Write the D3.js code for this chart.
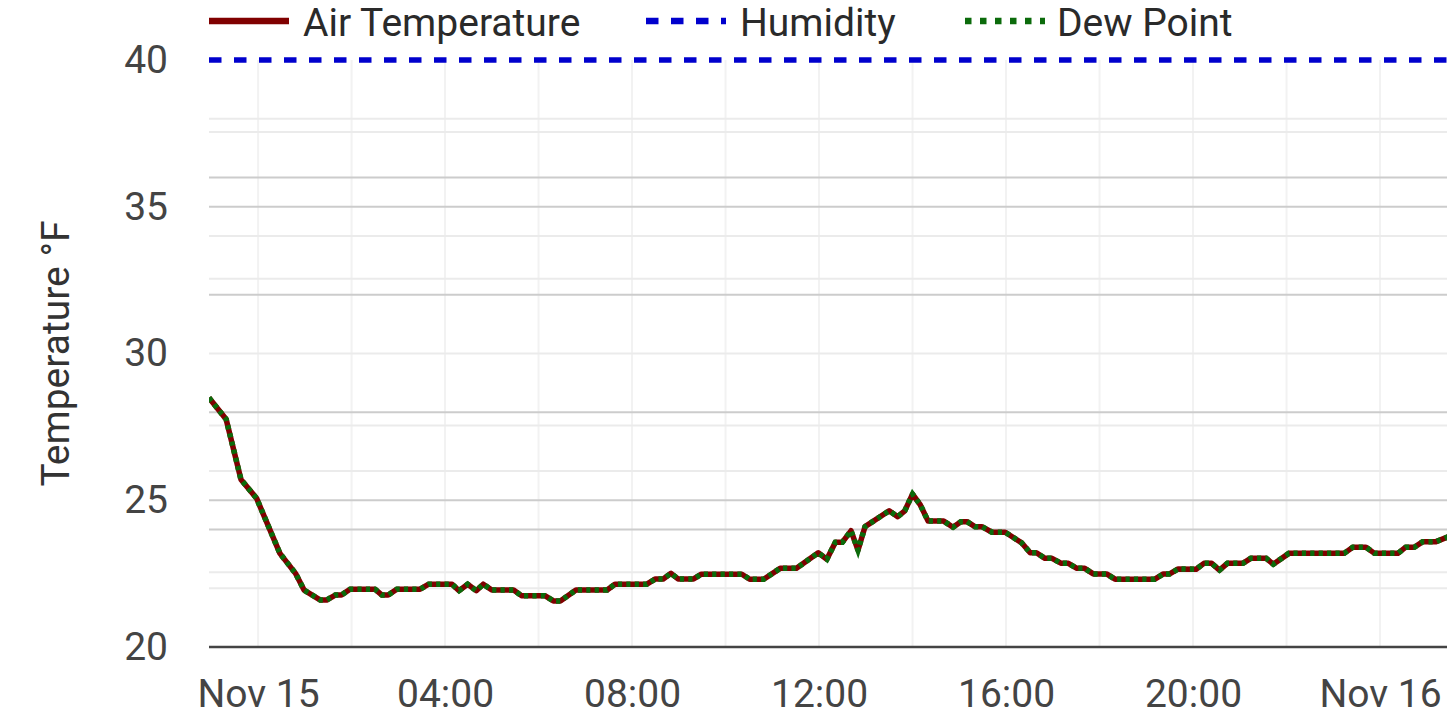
<!DOCTYPE html>
<html>
<head>
<meta charset="utf-8">
<script src="https://cdn.jsdelivr.net/npm/d3@7"></script>
<style>
  html, body { margin: 0; padding: 0; background: #fff; }
  svg { display: block; font-family: Roboto, "Noto Sans", sans-serif; }
</style>
</head>
<body>
<svg id="chart" width="1447" height="726"></svg>
<script>
// ---------------- DATA ----------------
const seriesNames = ["Air Temperature", "Humidity", "Dew Point"];

const tempTimes = [
  "2023-11-14 22:57","2023-11-14 23:19","2023-11-14 23:38","2023-11-14 23:58",
  "2023-11-15 00:28","2023-11-15 00:48","2023-11-15 00:59","2023-11-15 01:20","2023-11-15 01:28",
  "2023-11-15 01:39","2023-11-15 01:47","2023-11-15 01:58","2023-11-15 02:30","2023-11-15 02:39",
  "2023-11-15 02:47","2023-11-15 02:58","2023-11-15 03:28","2023-11-15 03:39","2023-11-15 04:09",
  "2023-11-15 04:18","2023-11-15 04:29","2023-11-15 04:40","2023-11-15 04:49","2023-11-15 05:00",
  "2023-11-15 05:28","2023-11-15 05:38","2023-11-15 06:08","2023-11-15 06:19","2023-11-15 06:28",
  "2023-11-15 06:48","2023-11-15 07:28","2023-11-15 07:38","2023-11-15 08:19","2023-11-15 08:30",
  "2023-11-15 08:40","2023-11-15 08:50","2023-11-15 08:59","2023-11-15 09:19","2023-11-15 09:29",
  "2023-11-15 10:21","2023-11-15 10:31","2023-11-15 10:49","2023-11-15 11:10","2023-11-15 11:31",
  "2023-11-15 11:59","2023-11-15 12:10","2023-11-15 12:21","2023-11-15 12:30","2023-11-15 12:41",
  "2023-11-15 12:50","2023-11-15 12:59","2023-11-15 13:30","2023-11-15 13:41","2023-11-15 13:50",
  "2023-11-15 14:00","2023-11-15 14:10","2023-11-15 14:20","2023-11-15 14:40","2023-11-15 14:52",
  "2023-11-15 15:02","2023-11-15 15:10","2023-11-15 15:20","2023-11-15 15:29","2023-11-15 15:42",
  "2023-11-15 15:59","2023-11-15 16:20","2023-11-15 16:31","2023-11-15 16:39","2023-11-15 16:50",
  "2023-11-15 16:59","2023-11-15 17:11","2023-11-15 17:20","2023-11-15 17:31","2023-11-15 17:41",
  "2023-11-15 17:52","2023-11-15 18:09","2023-11-15 18:20","2023-11-15 19:11","2023-11-15 19:22",
  "2023-11-15 19:30","2023-11-15 19:41","2023-11-15 20:04","2023-11-15 20:14","2023-11-15 20:24",
  "2023-11-15 20:34","2023-11-15 20:44","2023-11-15 21:04","2023-11-15 21:14","2023-11-15 21:34",
  "2023-11-15 21:43","2023-11-15 22:03","2023-11-15 23:14","2023-11-15 23:25","2023-11-15 23:42",
  "2023-11-15 23:53","2023-11-16 00:23","2023-11-16 00:33","2023-11-16 00:44","2023-11-16 00:55",
  "2023-11-16 01:12","2023-11-16 01:30"
];

const airTemp = [
  28.49,27.76,25.71,25.07,
  23.19,22.51,21.94,21.60,21.60,
  21.77,21.77,21.97,21.97,21.77,
  21.77,21.97,21.97,22.14,22.14,
  21.92,22.14,21.92,22.14,21.94,
  21.94,21.75,21.75,21.57,21.57,
  21.94,21.94,22.14,22.14,22.32,
  22.32,22.51,22.32,22.32,22.48,
  22.48,22.31,22.31,22.68,22.68,
  23.21,22.99,23.57,23.57,23.96,
  23.30,24.10,24.64,24.44,24.64,
  25.21,24.84,24.29,24.29,24.08,
  24.27,24.27,24.10,24.10,23.91,
  23.91,23.55,23.21,23.21,23.02,
  23.02,22.85,22.85,22.68,22.68,
  22.49,22.49,22.31,22.31,22.49,
  22.49,22.66,22.65,22.85,22.85,
  22.62,22.85,22.85,23.02,23.02,
  22.82,23.19,23.19,23.40,23.40,
  23.19,23.19,23.40,23.40,23.59,
  23.59,23.78
];

// Dew point reads the same as air temperature over this period
const dewPoint = [
  28.49,27.76,25.71,25.07,
  23.19,22.51,21.94,21.60,21.60,
  21.77,21.77,21.97,21.97,21.77,
  21.77,21.97,21.97,22.14,22.14,
  21.92,22.14,21.92,22.14,21.94,
  21.94,21.75,21.75,21.57,21.57,
  21.94,21.94,22.14,22.14,22.32,
  22.32,22.51,22.32,22.32,22.48,
  22.48,22.31,22.31,22.68,22.68,
  23.21,22.99,23.57,23.57,23.96,
  23.30,24.10,24.64,24.44,24.64,
  25.21,24.84,24.29,24.29,24.08,
  24.27,24.27,24.10,24.10,23.91,
  23.91,23.55,23.21,23.21,23.02,
  23.02,22.85,22.85,22.68,22.68,
  22.49,22.49,22.31,22.31,22.49,
  22.49,22.66,22.65,22.85,22.85,
  22.62,22.85,22.85,23.02,23.02,
  22.82,23.19,23.19,23.40,23.40,
  23.19,23.19,23.40,23.40,23.59,
  23.59,23.78
];

// Humidity (%), on its own 0-100 axis
const humidityTimes = ["2023-11-14 22:57", "2023-11-16 01:30"];
const humidity = [100, 100];

const xDomain = ["2023-11-14 22:57", "2023-11-16 01:26"];
const yDomain = [20, 40];
const yTicks = [20, 25, 30, 35, 40];
const humidityDomain = [0, 100];
const humidityGrid = [20, 40, 60, 80];
const tempGridDark = [25, 35];
const tempGridLight = [30, 22, 26, 34, 38, 22.55, 27.55, 32.55, 37.55];
const yTitle = "Temperature °F";

// ---------------- CHART ----------------
const parse = d3.timeParse("%Y-%m-%d %H:%M");
const svg = d3.select("#chart");
const W = 1447, H = 726;
const m = { left: 209, right: 0, top: 60, bottom: 79 };
const plotBottom = H - m.bottom; // 647
const FS = 39;

const x = d3.scaleTime().domain(xDomain.map(parse)).range([m.left, W - m.right]);
const y = d3.scaleLinear().domain(yDomain).range([plotBottom, m.top]);
const yH = d3.scaleLinear().domain(humidityDomain).range([plotBottom, m.top]);

const colors = { air: "#800000", hum: "#0000cd", dew: "#0b6b0b" };
const LW = 5.5;

svg.append("defs").append("clipPath").attr("id", "clip")
  .append("rect").attr("x", m.left).attr("y", m.top - 6)
  .attr("width", W - m.left).attr("height", plotBottom - m.top + 6);

const grid = svg.append("g");

// vertical grid every 2 hours
const vTicks = x.ticks(d3.timeHour.every(2));
grid.selectAll("line.v").data(vTicks).join("line")
  .attr("x1", d => x(d)).attr("x2", d => x(d))
  .attr("y1", m.top).attr("y2", plotBottom)
  .attr("stroke", "#f2f2f2").attr("stroke-width", 2);

// horizontal grid
grid.selectAll("line.hl").data(tempGridLight).join("line")
  .attr("x1", m.left).attr("x2", W)
  .attr("y1", d => y(d)).attr("y2", d => y(d))
  .attr("stroke", "#ebebeb").attr("stroke-width", 2);
grid.selectAll("line.hh").data(humidityGrid).join("line")
  .attr("x1", m.left).attr("x2", W)
  .attr("y1", d => yH(d)).attr("y2", d => yH(d))
  .attr("stroke", "#cccccc").attr("stroke-width", 2);
grid.selectAll("line.hd").data(tempGridDark).join("line")
  .attr("x1", m.left).attr("x2", W)
  .attr("y1", d => y(d)).attr("y2", d => y(d))
  .attr("stroke", "#cccccc").attr("stroke-width", 2);

// x axis
const fmtTick = d => (d.getHours() === 0 ? d3.timeFormat("%b %-d")(d) : d3.timeFormat("%H:%M")(d));
const xAxis = d3.axisBottom(x).ticks(d3.timeHour.every(4)).tickFormat(fmtTick).tickSize(0).tickPadding(32);
const gx = svg.append("g").attr("transform", `translate(0,${plotBottom})`).call(xAxis);
gx.select(".domain").remove();
gx.selectAll("text").attr("font-size", FS).attr("fill", "#444").attr("font-family", "Roboto");
svg.append("line").attr("x1", m.left).attr("x2", W)
  .attr("y1", plotBottom).attr("y2", plotBottom)
  .attr("stroke", "#444").attr("stroke-width", 2.5);

// y axis
const yAxis = d3.axisLeft(y).tickValues(yTicks).tickSize(0).tickPadding(41);
const gy = svg.append("g").attr("transform", `translate(${m.left},0)`).call(yAxis);
gy.select(".domain").remove();
gy.selectAll("text").attr("font-size", FS).attr("fill", "#444").attr("font-family", "Roboto");

svg.append("text")
  .attr("transform", `translate(69,${(m.top + plotBottom) / 2}) rotate(-90)`)
  .attr("text-anchor", "middle").attr("font-size", FS).attr("fill", "#333")
  .text(yTitle);

// lines
const plot = svg.append("g").attr("clip-path", "url(#clip)");
const tT = tempTimes.map(parse);
const line = d3.line().x(d => x(d[0])).y(d => y(d[1]));
const lineH = d3.line().x(d => x(d[0])).y(d => yH(d[1]));

plot.append("path").datum(tT.map((t, i) => [t, airTemp[i]]))
  .attr("d", line).attr("fill", "none").attr("stroke", colors.air)
  .attr("stroke-width", LW).attr("stroke-linejoin", "round");
plot.append("path").datum(humidityTimes.map((t, i) => [parse(t), humidity[i]]))
  .attr("d", lineH).attr("fill", "none").attr("stroke", colors.hum)
  .attr("stroke-width", LW).attr("stroke-dasharray", "12.5,12.5");
plot.append("path").datum(tT.map((t, i) => [t, dewPoint[i]]))
  .attr("d", line).attr("fill", "none").attr("stroke", colors.dew)
  .attr("stroke-width", LW).attr("stroke-dasharray", "4.2,4.2");

// legend
const legendItems = [
  { name: seriesNames[0], color: colors.air, dash: null, x0: 209 },
  { name: seriesNames[1], color: colors.hum, dash: "12.5,12.5", x0: 646 },
  { name: seriesNames[2], color: colors.dew, dash: "6.5,8.5", x0: 965 }
];
const lg = svg.append("g");
legendItems.forEach(it => {
  lg.append("line").attr("x1", it.x0).attr("x2", it.x0 + 80)
    .attr("y1", 21).attr("y2", 21)
    .attr("stroke", it.color).attr("stroke-width", LW + 0.8)
    .attr("stroke-dasharray", it.dash);
  lg.append("text").attr("x", it.x0 + (it.x0 === 965 ? 92 : 94)).attr("y", 36)
    .attr("font-size", FS).attr("fill", "#2a2a2a").text(it.name);
});
</script>
</body>
</html>
